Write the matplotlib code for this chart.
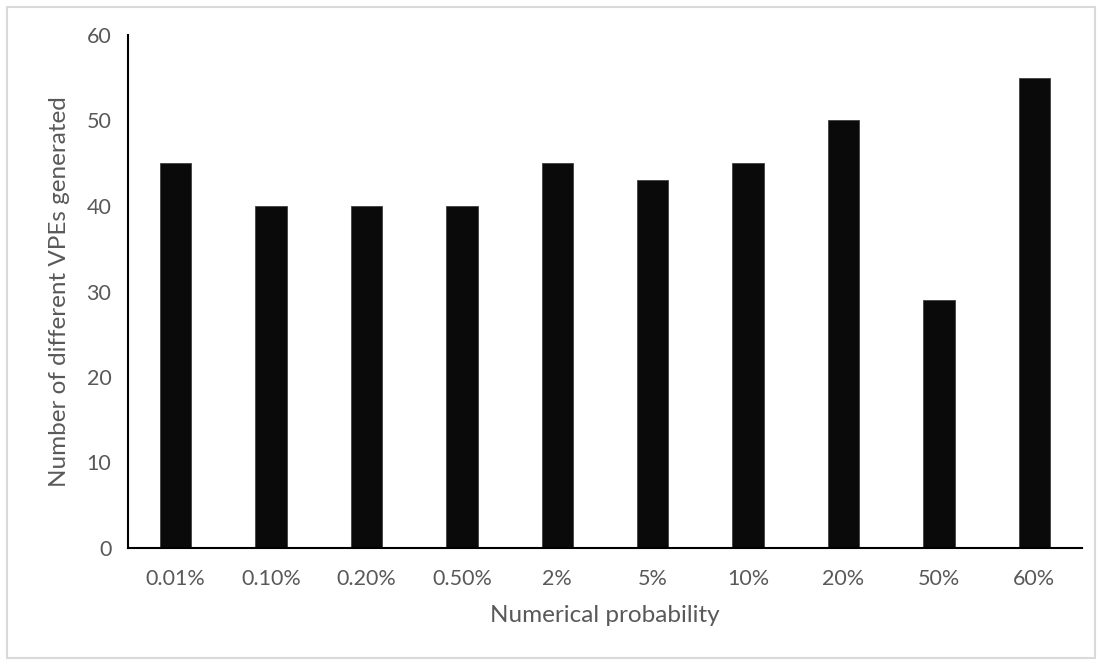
import matplotlib.pyplot as plt
from matplotlib.patches import Rectangle

# number of distinct VPEs per numerical probability setting
probabilities = ['0.01%', '0.10%', '0.20%', '0.50%', '2%', '5%', '10%', '20%', '50%', '60%']
vpe_counts = [45, 40, 40, 40, 45, 43, 45, 50, 29, 55]

plt.rcParams['font.family'] = ['Lato', 'DejaVu Sans']
text_grey = '#595959'

fig = plt.figure(figsize=(11.02, 6.65), dpi=100)
ax = fig.add_axes([128 / 1102, 1 - 548 / 665, (1082 - 128) / 1102, (548 - 35) / 665])

x = range(len(probabilities))
ax.bar(x, vpe_counts, width=0.33, color='#0a0a0a', edgecolor='#404040', linewidth=0.6)

ax.set_xlim(-0.5, len(probabilities) - 0.5)
ax.set_ylim(0, 60)
ax.set_yticks(range(0, 61, 10))
ax.set_xticks(list(x))
ax.set_xticklabels(probabilities)
ax.tick_params(axis='both', length=0, labelsize=15.5, labelcolor=text_grey)
ax.tick_params(axis='x', pad=15)
ax.tick_params(axis='y', pad=12)

for side in ['top', 'right']:
    ax.spines[side].set_visible(False)
for side in ['left', 'bottom']:
    ax.spines[side].set_linewidth(1.5)
    ax.spines[side].set_color('black')

ax.set_xlabel('Numerical probability', fontsize=17.5, color=text_grey, labelpad=12)
ax.set_ylabel('Number of different VPEs generated', fontsize=17.5, color=text_grey, labelpad=12)

# light frame round the whole chart
fig.patches.append(Rectangle((7 / 1102, 7 / 665), 1088 / 1102, 651 / 665,
                             transform=fig.transFigure, fill=False,
                             edgecolor='#d9d9d9', linewidth=1.5))

fig.savefig('out.png', dpi=100)
